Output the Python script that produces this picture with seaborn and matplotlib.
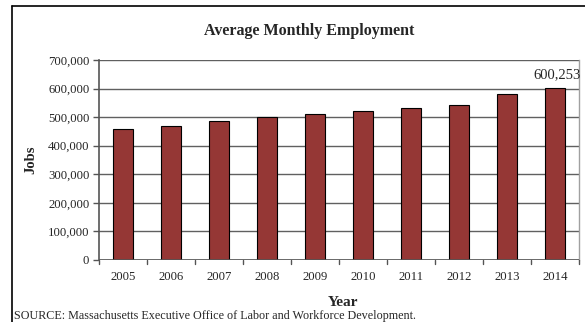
import matplotlib
matplotlib.use("Agg")
import matplotlib.pyplot as plt
import seaborn as sns
import pandas as pd
from matplotlib.lines import Line2D

years = ["2005", "2006", "2007", "2008", "2009", "2010", "2011", "2012", "2013", "2014"]
jobs = [459000, 470000, 488000, 500000, 510000, 520000, 533000, 544000, 582000, 600253]
yticks = [0, 100000, 200000, 300000, 400000, 500000, 600000, 700000]

df = pd.DataFrame({"Year": years, "Jobs": jobs})

sns.set_style("white")
plt.rcParams['font.family'] = ['Liberation Serif', 'DejaVu Serif']

W, H = 585, 322
fig = plt.figure(figsize=(W / 100, H / 100), dpi=100)
ax = fig.add_axes([99 / W, 1 - 260 / H, (579 - 99) / W, (260 - 60) / H])

sns.barplot(data=df, x="Year", y="Jobs", color="#953735", width=0.42,
            edgecolor="black", linewidth=0.8, saturation=1, ax=ax, zorder=3)

ax.set_ylim(0, 700000)
ax.set_xlim(-0.5, len(years) - 0.5)
ax.set_yticks(yticks)
ax.set_yticklabels([f"{v:,}" for v in yticks], fontsize=9.2)
ax.set_xticks(range(len(years)))
ax.set_xticklabels(years, fontsize=9.2)
ax.tick_params(axis="x", length=0, pad=8)
ax.tick_params(axis="y", length=4, width=1, color="#555555", direction="out", left=True, pad=3)
for b in [i + 0.5 for i in range(-1, len(years))]:
    ax.plot([b, b], [0, -0.018 * 700000], color="#555555", lw=1, clip_on=False, zorder=4)

ax.yaxis.grid(True, color="#606060", linewidth=1)
ax.set_axisbelow(True)
for s in ["top", "bottom"]:
    ax.spines[s].set_visible(False)
ax.spines["left"].set_color("#555555")
ax.spines["left"].set_linewidth(1.2)
ax.spines["right"].set_color("#a0a0a0")
ax.spines["right"].set_linewidth(1)
ax.axhline(0, color="#555555", lw=1.2, zorder=4)

ax.set_xlabel("")
ax.set_ylabel("")
ax.text(len(years) - 1 + 0.05, jobs[-1] + 24000, f"{jobs[-1]:,}", ha="center", va="bottom", fontsize=10.5)

fig.text(309 / W, 1 - 31 / H, "Average Monthly Employment", ha="center", va="center",
         fontsize=11.5, fontweight="bold")
fig.text(31 / W, 1 - 160 / H, "Jobs", ha="center", va="center", rotation=90,
         fontsize=10.5, fontweight="bold")
fig.text(343 / W, 1 - 302 / H, "Year", ha="center", va="center", fontsize=11, fontweight="bold")
fig.text(14 / W, 1 - 316 / H, "SOURCE: Massachusetts Executive Office of Labor and Workforce Development.",
         ha="left", va="center", fontsize=8.7)

# chart frame
fig.add_artist(Line2D([12 / W, 12 / W], [0, 1 - 6 / H], transform=fig.transFigure, color="black", lw=1.2))
fig.add_artist(Line2D([12 / W, 1], [1 - 6 / H, 1 - 6 / H], transform=fig.transFigure, color="black", lw=1.2))

fig.savefig("out.png", dpi=100)
